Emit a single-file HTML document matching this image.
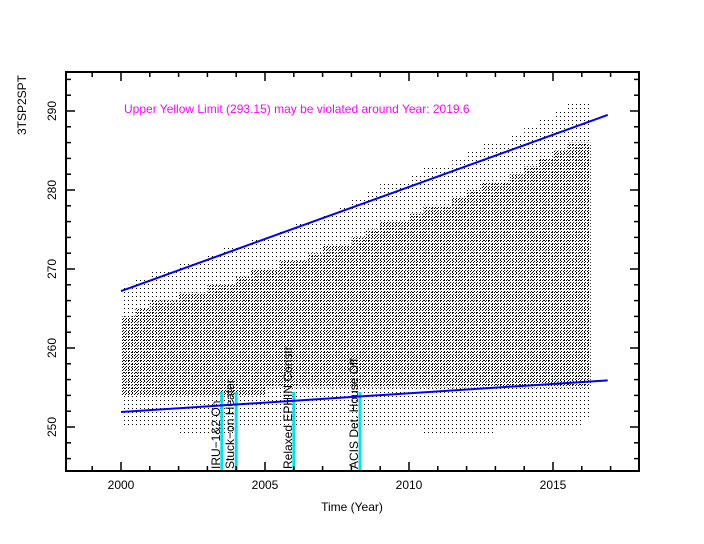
<!DOCTYPE html>
<html><head><meta charset="utf-8"><style>
body{margin:0;background:#fff}
svg{display:block;font-family:"Liberation Sans",sans-serif}
</style></head><body>
<svg id="c" width="704" height="544" viewBox="0 0 704 544">
<defs>
<pattern id="dots" width="3" height="3" patternUnits="userSpaceOnUse">
<rect x="0" y="0" width="1" height="1" fill="#000"/><rect x="2" y="1" width="1" height="1" fill="#000"/>
</pattern>
<pattern id="sparse" width="4" height="4" patternUnits="userSpaceOnUse">
<rect x="0" y="0" width="1" height="1" fill="#000"/>
</pattern>
</defs>
<g id="plot"></g>
</svg>
<script>
const years=[2000,2000.5,2001,2001.5,2002,2002.5,2003,2003.5,2004,2004.5,2005,2005.5,2006,2006.5,2007,2007.5,2008,2008.5,2009,2009.5,2010,2010.5,2011,2011.5,2012,2012.5,2013,2013.5,2014,2014.5,2015,2015.5,2016];
const hiVals=[268,269,270,270,271,271,272,273,273,274,274,275,276,276,277,278,279,280,281,281,282,283,283,284,285,286,286,287,288,289,290,291,291];
const loVals=[250,250,250,250,249,249,249,249,250,250,250,250,250,250,250,250,250,250,250,250,250,249,249,249,249,249,250,250,250,250,250,250,251];
const coreHi=[264,265,266,266,267,267,268,268,269,270,270,271,271,272,273,273,274,275,276,276,277,278,278,279,280,281,281,282,283,284,285,286,286];
const coreLo=[254,254,254,254,254,254,254,254,254,254,255,255,255,255,255,255,255,255,255,255,255,255,255,255,255,255,255,255,255,255,255,255,255];
const xTicks=[2000,2005,2010,2015];
const yTicks=[250,260,270,280,290];
const trendUpper=[[2000,267.2],[2016.9,289.5]];
const trendLower=[[2000,251.9],[2016.9,255.9]];
const events=[[2003.5,"IRU−1&2 On"],[2004.0,"Stuck−on Heater"],[2006.0,"Relaxed EPHIN Constr."],[2008.3,"ACIS Det. House Off"]];

const L=66,R=639,T=72,B=471;
const x=v=>121+(v-2000)*28.8;
const y=v=>111+(290-v)*7.9;
const g=document.getElementById('plot');
const NS='http://www.w3.org/2000/svg';
function mk(tag,attrs,parent){const e=document.createElementNS(NS,tag);for(const k in attrs)e.setAttribute(k,attrs[k]);(parent||g).appendChild(e);return e;}

years.forEach((yr,i)=>{
  const end=Math.min(yr+0.5,2016.3);
  const w=x(end)-x(yr)+0.3;
  const a=mk('rect',{x:x(yr),y:y(hiVals[i]),width:w,height:y(loVals[i])-y(hiVals[i]),fill:'url(#sparse)'});
  
  
  const b=mk('rect',{x:x(yr),y:y(coreHi[i]),width:w,height:y(coreLo[i])-y(coreHi[i]),fill:'url(#dots)'});
  
  
});

events.forEach(([yr,label])=>{
  const l=mk('line',{x1:x(yr),x2:x(yr),y1:B,y2:392,stroke:'#00e5e5','stroke-width':3});
  
  
  const t=mk('text',{x:0,y:0,transform:`translate(${x(yr)-2},${B-2}) rotate(-90)`,'font-size':12,fill:'#000'});
  t.textContent=label;
  
  
});

[trendUpper,trendLower].forEach((tr,i)=>{
  const l=mk('line',{x1:x(tr[0][0]),y1:y(tr[0][1]),x2:x(tr[1][0]),y2:y(tr[1][1]),stroke:'#0000ff','stroke-width':2});
  
  
});

const fr=mk('rect',{x:L,y:T,width:R-L,height:B-T,fill:'none',stroke:'#000','stroke-width':2});



for(let yr=1999;yr<=2017;yr++){
  const big=xTicks.includes(yr);
  const len=big?9:5;
  mk('line',{x1:x(yr),x2:x(yr),y1:B,y2:B-len,stroke:'#000','stroke-width':1.5});
  mk('line',{x1:x(yr),x2:x(yr),y1:T,y2:T+len,stroke:'#000','stroke-width':1.5});
}
xTicks.forEach(v=>{
  const t=mk('text',{x:x(v),y:489,'text-anchor':'middle','font-size':12});
  t.textContent=v;
  
  
});
for(let v=246;v<=294;v+=2){
  const len=v%10===0?9:5;
  mk('line',{x1:L,x2:L+len,y1:y(v),y2:y(v),stroke:'#000','stroke-width':1.5});
  mk('line',{x1:R,x2:R-len,y1:y(v),y2:y(v),stroke:'#000','stroke-width':1.5});
}
yTicks.forEach(v=>{
  const t=mk('text',{transform:`translate(56,${y(v)}) rotate(-90)`,'text-anchor':'middle','font-size':12});
  t.textContent=v;
  
  
});

const xt=mk('text',{x:352,y:511,'text-anchor':'middle','font-size':12});
xt.textContent='Time (Year)';


const yt=mk('text',{transform:'translate(26,105) rotate(-90)','text-anchor':'middle','font-size':12});
yt.textContent='3TSP2SPT';


const note=mk('text',{x:124,y:113,'font-size':12,fill:'#ff00ff'});
note.textContent='Upper Yellow  Limit (293.15) may be violated around Year: 2019.6';


</script>
</body></html>
